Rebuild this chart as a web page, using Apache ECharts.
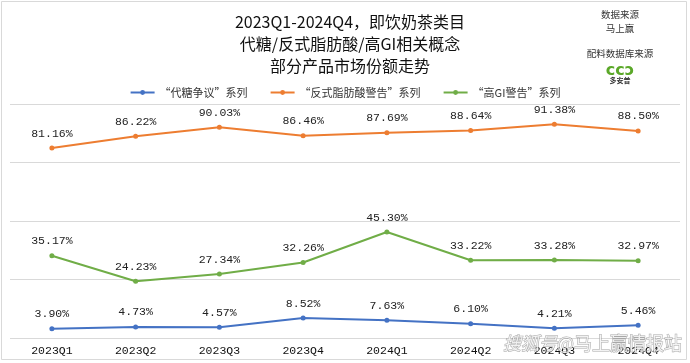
<!DOCTYPE html>
<html><head><meta charset="utf-8">
<script src="https://cdn.jsdelivr.net/npm/echarts@6/dist/echarts.min.js"></script>
<style>html,body{margin:0;padding:0;background:#fff}#c{width:690px;height:363px}</style>
</head><body><div id="c"></div>
<script>
const categories = ['2023Q1','2023Q2','2023Q3','2023Q4','2024Q1','2024Q2','2024Q3','2024Q4'];
const sweetenerSeries = [3.90, 4.73, 4.57, 8.52, 7.63, 6.10, 4.21, 5.46];
const transFatSeries = [81.16, 86.22, 90.03, 86.46, 87.69, 88.64, 91.38, 88.50];
const highGISeries = [35.17, 24.23, 27.34, 32.26, 45.30, 33.22, 33.28, 32.97];
const seriesNames = ['“代糖争议”系列', '“反式脂肪酸警告”系列', '“高GI警告”系列'];
const colors = ['#4472C4', '#ED7D31', '#70AD47'];
const titleLines = ['2023Q1-2024Q4，即饮奶茶类目', '代糖/反式脂肪酸/高GI相关概念', '部分产品市场份额走势'];

const chart = echarts.init(document.getElementById('c'));
const labelFont = 'Liberation Mono, DejaVu Sans Mono, monospace';
function mk(name, data, color) {
  return {
    name, type: 'line', data,
    symbol: 'circle', symbolSize: 5,
    lineStyle: { width: 2, color },
    itemStyle: { color },
    label: { show: true, position: 'top', distance: 6, color: '#222', fontSize: 11.5, fontFamily: labelFont,
      formatter: p => p.value.toFixed(2) + '%' }
  };
}
chart.setOption({
  animation: false,
  backgroundColor: '#fff',
  color: colors,
  title: {
    text: titleLines.join('\n'), left: 345, top: 6, textAlign: 'center',
    textStyle: { fontFamily: 'Noto Sans CJK SC', fontSize: 16, fontWeight: 'normal', color: '#111', lineHeight: 22 }
  },
  legend: {
    top: 82, left: 'center', itemGap: 22, itemWidth: 24, itemHeight: 6,
    textStyle: { fontFamily: 'Noto Sans CJK SC', fontSize: 11, color: '#333' },
    data: seriesNames
  },
  grid: { left: 10, right: 10, top: 104, bottom: 25 },
  xAxis: {
    type: 'category', data: categories, boundaryGap: true,
    axisLine: { show: false }, axisTick: { show: false },
    axisLabel: { color: '#111', fontSize: 11.5, fontFamily: labelFont, margin: 7 }
  },
  yAxis: {
    type: 'value', min: 0, max: 100, interval: 25,
    axisLabel: { show: false }, axisLine: { show: false }, axisTick: { show: false },
    splitLine: { lineStyle: { color: '#D9D9D9', width: 1 } }
  },
  graphic: [
    { type: 'rect', shape: { x: 1.5, y: 1.5, width: 685, height: 358 }, style: { fill: 'none', stroke: '#D9D9D9', lineWidth: 1 }, silent: true },
    { type: 'text', x: 620, y: 10, style: { text: '数据来源', textAlign: 'center', fontSize: 9.5, fontFamily: 'Noto Sans CJK SC', fill: '#333' } },
    { type: 'text', x: 620, y: 24, style: { text: '马上赢', textAlign: 'center', fontSize: 9.5, fontFamily: 'Noto Sans CJK SC', fill: '#333' } },
    { type: 'text', x: 620, y: 49, style: { text: '配料数据库来源', textAlign: 'center', fontSize: 9.5, fontFamily: 'Noto Sans CJK SC', fill: '#333' } },
    { type: 'text', x: 620, y: 63, style: { text: 'ccɔ', textAlign: 'center', fontSize: 16, fontWeight: 'bold', fontFamily: 'DejaVu Sans', fill: '#5BA829' } },
    { type: 'text', x: 620, y: 77, style: { text: '多安普', textAlign: 'center', fontSize: 7, fontWeight: 'bold', fontFamily: 'Noto Sans CJK SC', fill: '#333' } },
    { type: 'text', x: 503, y: 334, z: 100, style: {
      text: '{a|搜狐号}{b|@马上赢情报站}',
      rich: {
        a: { fontSize: 18, fontStyle: 'italic', fontFamily: 'Noto Sans CJK SC', fill: 'rgba(255,255,255,0.8)', stroke: 'rgba(110,110,110,0.6)', lineWidth: 1 },
        b: { fontSize: 18, fontFamily: 'Noto Sans CJK SC', fill: 'rgba(255,255,255,0.8)', stroke: 'rgba(110,110,110,0.6)', lineWidth: 1 }
      },
      fill: 'rgba(255,255,255,0.8)', stroke: 'rgba(110,110,110,0.6)', lineWidth: 1, fontSize: 18, fontFamily: 'Noto Sans CJK SC' } }
  ],
  series: [
    mk(seriesNames[0], sweetenerSeries, colors[0]),
    mk(seriesNames[1], transFatSeries, colors[1]),
    mk(seriesNames[2], highGISeries, colors[2])
  ]
});
</script></body></html>
